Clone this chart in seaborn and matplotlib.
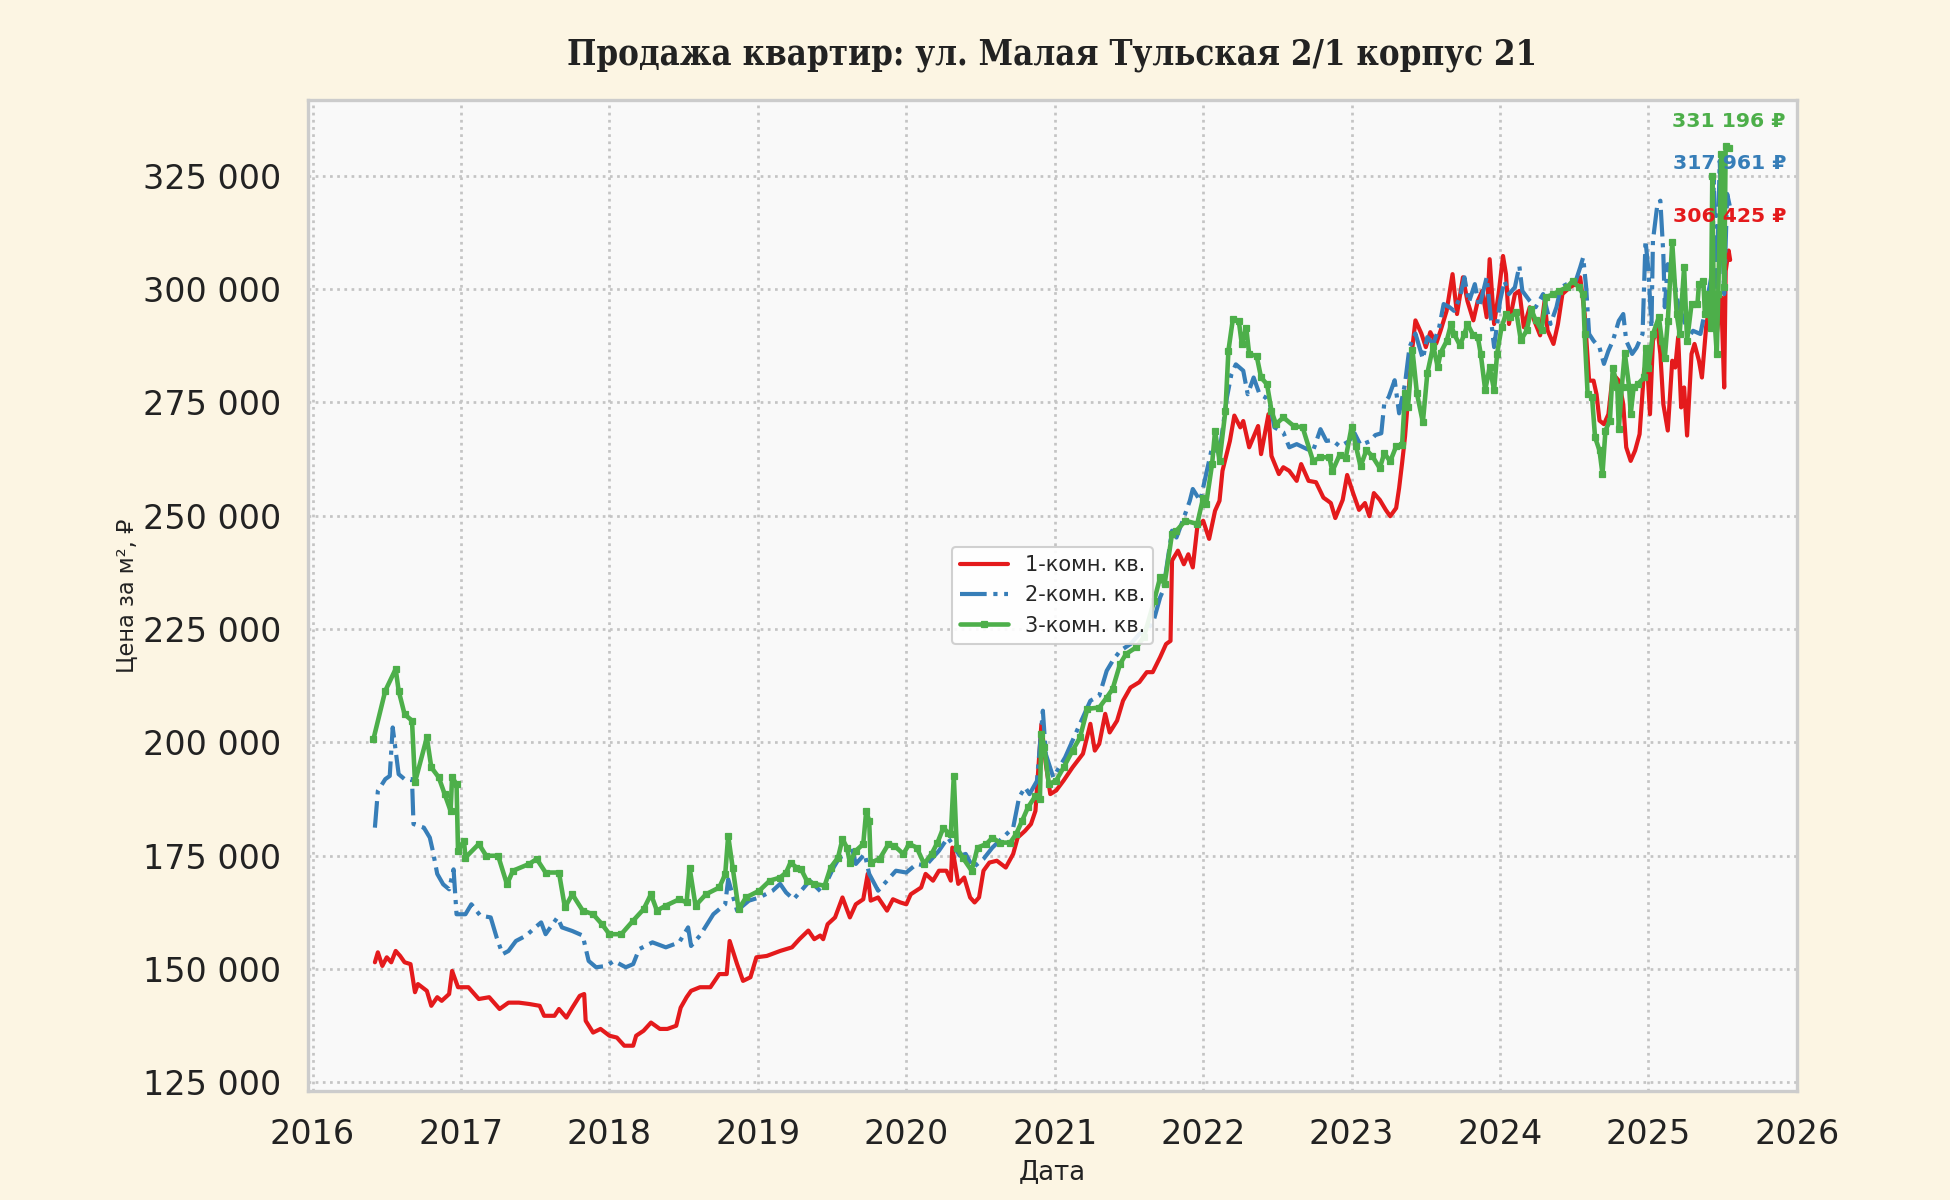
import matplotlib
matplotlib.use("Agg")
import matplotlib.pyplot as plt
from matplotlib.ticker import FuncFormatter, FixedLocator
import seaborn as sns

# ---------------- data ----------------
title_text = "Продажа квартир: ул. Малая Тульская 2/1 корпус 21"
series_labels = ["1-комн. кв.", "2-комн. кв.", "3-комн. кв."]
series_colors = ["#e41a1c", "#377eb8", "#4daf4a"]
x_label = "Дата"
y_label = "Цена за м², ₽"
year_ticks = [2016, 2017, 2018, 2019, 2020, 2021, 2022, 2023, 2024, 2025, 2026]
price_ticks = [125000, 150000, 175000, 200000, 225000, 250000, 275000, 300000, 325000]

red_x = [2016.42, 2016.44, 2016.47, 2016.50, 2016.53, 2016.56, 2016.59, 2016.62, 2016.66, 2016.69,
         2016.71, 2016.77, 2016.80, 2016.84, 2016.87, 2016.92, 2016.94, 2016.98, 2017.05, 2017.12,
         2017.19, 2017.26, 2017.32, 2017.39, 2017.46, 2017.53, 2017.56, 2017.63, 2017.66, 2017.71,
         2017.75, 2017.80, 2017.83, 2017.84, 2017.89, 2017.94, 2018.00, 2018.05, 2018.10, 2018.16,
         2018.18, 2018.23, 2018.28, 2018.34, 2018.39, 2018.45, 2018.48, 2018.52, 2018.55, 2018.61,
         2018.68, 2018.74, 2018.79, 2018.81, 2018.86, 2018.90, 2018.95, 2018.99, 2019.06, 2019.15,
         2019.23, 2019.28, 2019.34, 2019.38, 2019.42, 2019.44, 2019.47, 2019.52, 2019.57, 2019.62,
         2019.66, 2019.71, 2019.74, 2019.76, 2019.81, 2019.87, 2019.91, 2019.96, 2020.00, 2020.03,
         2020.10, 2020.13, 2020.18, 2020.22, 2020.27, 2020.30, 2020.31, 2020.35, 2020.39, 2020.43,
         2020.46, 2020.49, 2020.52, 2020.56, 2020.61, 2020.67, 2020.72, 2020.75, 2020.80, 2020.84,
         2020.87, 2020.91, 2020.94, 2020.97, 2021.01, 2021.06, 2021.12, 2021.19, 2021.24, 2021.27,
         2021.30, 2021.34, 2021.37, 2021.42, 2021.46, 2021.51, 2021.57, 2021.62, 2021.66, 2021.71,
         2021.75, 2021.78, 2021.79, 2021.83, 2021.87, 2021.90, 2021.93, 2021.96, 2022.00, 2022.04,
         2022.08, 2022.11, 2022.13, 2022.18, 2022.21, 2022.25, 2022.27, 2022.31, 2022.37, 2022.39,
         2022.44, 2022.46, 2022.51, 2022.54, 2022.58, 2022.63, 2022.66, 2022.71, 2022.76, 2022.81,
         2022.84, 2022.86, 2022.89, 2022.94, 2022.97, 2023.01, 2023.05, 2023.09, 2023.12, 2023.15,
         2023.19, 2023.23, 2023.26, 2023.30, 2023.32, 2023.34, 2023.36, 2023.39, 2023.41, 2023.43,
         2023.47, 2023.50, 2023.53, 2023.57, 2023.60, 2023.64, 2023.68, 2023.71, 2023.75, 2023.78,
         2023.82, 2023.85, 2023.88, 2023.91, 2023.93, 2023.96, 2023.99, 2024.02, 2024.04, 2024.06,
         2024.10, 2024.13, 2024.16, 2024.20, 2024.23, 2024.27, 2024.30, 2024.32, 2024.36, 2024.39,
         2024.42, 2024.47, 2024.51, 2024.54, 2024.57, 2024.60, 2024.63, 2024.65, 2024.67, 2024.70,
         2024.73, 2024.76, 2024.80, 2024.83, 2024.85, 2024.88, 2024.91, 2024.94, 2024.97, 2024.99,
         2025.01, 2025.03, 2025.06, 2025.08, 2025.10, 2025.13, 2025.16, 2025.18, 2025.20, 2025.22,
         2025.24, 2025.26, 2025.29, 2025.31, 2025.34, 2025.36, 2025.39, 2025.42, 2025.44, 2025.46,
         2025.49, 2025.51, 2025.52, 2025.54, 2025.55]
red_y = [151500, 153700, 150700, 152600, 151500, 154000, 152900, 151500, 151100, 144900,
         146700, 145200, 141900, 143800, 143000, 144500, 149600, 146000, 146000, 143400,
         143800, 141200, 142600, 142600, 142300, 141900, 139700, 139700, 141200, 139300,
         141500, 144100, 144500, 138600, 136000, 136800, 135300, 134900, 133100, 133100,
         135300, 136400, 138200, 136800, 136800, 137500, 141500, 143800, 145200, 146000,
         146000, 148900, 148900, 156200, 151100, 147400, 148200, 152600, 152900, 154000,
         154800, 156600, 158500, 156600, 157400, 156600, 159900, 161400, 165800, 161400,
         164300, 165400, 171000, 165100, 165800, 162900, 165400, 164700, 164300, 166500,
         168000, 171000, 169500, 171700, 171700, 169500, 176800, 168800, 170200, 165800,
         164700, 165800, 171700, 173500, 173900, 172400, 175400, 179000, 180500, 182000,
         184900, 204000, 195200, 188600, 189400, 191600, 194500, 197500, 204100, 198200,
         199700, 206300, 202200, 204800, 209200, 212100, 213300, 215500, 215500, 218800,
         221700, 222400, 240100, 242300, 239300, 241500, 238600, 247400, 248900, 244900,
         251100, 253300, 259900, 266500, 272100, 269500, 270900, 265100, 269800, 263600,
         272400, 263200, 259200, 260700, 259900, 257700, 261400, 257700, 257400, 254000,
         253300, 252800, 249500, 253500, 259000, 255000, 251300, 252800, 249900, 255000,
         253500, 251300, 249900, 251700, 256100, 261600, 267500, 279900, 287200, 293100,
         290200, 287200, 290500, 288000, 290900, 295200, 303300, 294500, 302600, 297400,
         293100, 297400, 299600, 293800, 306600, 292300, 298900, 307300, 303300, 292300,
         298900, 299600, 291600, 296000, 293100, 289800, 297400, 290900, 287900, 292300,
         298900, 300400, 301100, 302600, 294500, 279800, 279800, 276800, 271000, 270200,
         272400, 281300, 279800, 274600, 265100, 262100, 264400, 268000, 282000, 284200,
         272400, 288600, 291500, 285700, 274600, 268800, 284200, 282700, 289400, 273900,
         278300, 267700, 285700, 287900, 284200, 280500, 292300, 297400, 293000, 290100,
         298200, 278300, 304000, 308500, 306425]

blue_x = [2016.42, 2016.44, 2016.49, 2016.52, 2016.54, 2016.56, 2016.58, 2016.62, 2016.67, 2016.68,
          2016.75, 2016.79, 2016.81, 2016.84, 2016.88, 2016.92, 2016.95, 2016.97, 2017.03, 2017.07,
          2017.13, 2017.20, 2017.24, 2017.28, 2017.32, 2017.37, 2017.44, 2017.50, 2017.54, 2017.57,
          2017.65, 2017.68, 2017.75, 2017.82, 2017.86, 2017.91, 2017.98, 2018.03, 2018.11, 2018.16,
          2018.20, 2018.29, 2018.38, 2018.47, 2018.53, 2018.55, 2018.61, 2018.70, 2018.78, 2018.80,
          2018.86, 2018.94, 2019.01, 2019.10, 2019.15, 2019.19, 2019.24, 2019.30, 2019.35, 2019.43,
          2019.51, 2019.55, 2019.60, 2019.63, 2019.66, 2019.72, 2019.75, 2019.81, 2019.87, 2019.93,
          2020.00, 2020.07, 2020.13, 2020.22, 2020.28, 2020.31, 2020.36, 2020.40, 2020.45, 2020.52,
          2020.58, 2020.65, 2020.72, 2020.76, 2020.80, 2020.83, 2020.88, 2020.92, 2020.94, 2020.99,
          2021.03, 2021.07, 2021.17, 2021.24, 2021.30, 2021.35, 2021.39, 2021.44, 2021.51, 2021.57,
          2021.66, 2021.71, 2021.73, 2021.79, 2021.82, 2021.87, 2021.91, 2021.93, 2021.98, 2022.02,
          2022.06, 2022.09, 2022.12, 2022.16, 2022.19, 2022.22, 2022.27, 2022.30, 2022.34, 2022.38,
          2022.42, 2022.45, 2022.48, 2022.54, 2022.58, 2022.63, 2022.70, 2022.74, 2022.79, 2022.83,
          2022.87, 2022.92, 2022.98, 2023.02, 2023.06, 2023.12, 2023.16, 2023.20, 2023.22, 2023.25,
          2023.29, 2023.32, 2023.36, 2023.39, 2023.43, 2023.48, 2023.51, 2023.55, 2023.59, 2023.62,
          2023.66, 2023.69, 2023.73, 2023.76, 2023.79, 2023.83, 2023.86, 2023.91, 2023.94, 2023.96,
          2024.00, 2024.03, 2024.06, 2024.10, 2024.13, 2024.15, 2024.20, 2024.24, 2024.29, 2024.34,
          2024.38, 2024.41, 2024.45, 2024.51, 2024.54, 2024.56, 2024.58, 2024.60, 2024.63, 2024.67,
          2024.70, 2024.73, 2024.76, 2024.80, 2024.83, 2024.85, 2024.89, 2024.92, 2024.96, 2024.97,
          2024.98, 2025.00, 2025.02, 2025.03, 2025.06, 2025.08, 2025.10, 2025.11, 2025.13, 2025.17,
          2025.20, 2025.24, 2025.27, 2025.30, 2025.35, 2025.39, 2025.43, 2025.44, 2025.46, 2025.48,
          2025.51, 2025.53, 2025.55]
blue_y = [181200, 189300, 191900, 192600, 203300, 198100, 193000, 191900, 191900, 182000,
          181200, 179000, 176100, 171000, 168700, 167600, 172000, 162100, 162100, 164300,
          161800, 161400, 157000, 153300, 154000, 156200, 157400, 159200, 160300, 157700,
          161400, 159200, 158400, 157400, 151800, 150400, 150700, 151800, 150400, 151100,
          154400, 155900, 154800, 155900, 159200, 155100, 157400, 162100, 164300, 169800,
          162900, 165100, 165800, 167300, 168800, 166900, 165400, 167600, 169500, 166900,
          172400, 174600, 175400, 177200, 173200, 175400, 171000, 167300, 169500, 171700,
          171300, 173200, 172800, 176100, 179000, 177600, 175000, 175400, 172400, 174300,
          176800, 179000, 181200, 187900, 190100, 188600, 191500, 207000, 197400, 192300,
          194500, 196700, 204100, 209200, 210300, 215800, 218000, 220200, 221700, 223900,
          226100, 232000, 233500, 246700, 245200, 249600, 253300, 255900, 253300, 259200,
          265100, 264300, 266500, 276100, 281200, 283400, 282000, 276800, 280500, 276800,
          276100, 274600, 269500, 268400, 265100, 265800, 264700, 264300, 269100, 266500,
          266700, 265300, 266400, 268200, 265600, 266400, 267800, 268200, 274800, 276200,
          279900, 272600, 279200, 287200, 290200, 284600, 289400, 287900, 291600, 296700,
          296000, 295200, 298200, 302600, 297100, 301100, 296000, 302600, 293100, 287200,
          297400, 301800, 298900, 300400, 305100, 299600, 297400, 296000, 298900, 292300,
          296000, 300400, 301100, 301800, 304800, 307000, 300400, 290100, 288600, 287100,
          283500, 286400, 288600, 293000, 294500, 288600, 285700, 287100, 290100, 300400,
          310700, 304000, 291500, 310700, 318700, 319500, 307700, 296000, 305500, 302600,
          296700, 293000, 289400, 290800, 290100, 296700, 304000, 323900, 300400, 328300,
          298900, 321000, 317961]

green_x = [2016.41, 2016.49, 2016.56, 2016.58, 2016.62, 2016.67, 2016.69, 2016.77, 2016.80, 2016.85,
           2016.89, 2016.93, 2016.94, 2016.97, 2016.98, 2017.02, 2017.03, 2017.12, 2017.17, 2017.25,
           2017.31, 2017.35, 2017.46, 2017.51, 2017.57, 2017.66, 2017.70, 2017.75, 2017.82, 2017.89,
           2017.95, 2018.00, 2018.08, 2018.16, 2018.23, 2018.28, 2018.32, 2018.38, 2018.47, 2018.52,
           2018.54, 2018.58, 2018.65, 2018.74, 2018.78, 2018.80, 2018.83, 2018.87, 2018.92, 2019.01,
           2019.08, 2019.15, 2019.19, 2019.22, 2019.26, 2019.29, 2019.33, 2019.38, 2019.45, 2019.49,
           2019.54, 2019.57, 2019.60, 2019.62, 2019.66, 2019.71, 2019.73, 2019.75, 2019.76, 2019.82,
           2019.88, 2019.92, 2019.98, 2020.02, 2020.07, 2020.12, 2020.17, 2020.21, 2020.25, 2020.28,
           2020.30, 2020.32, 2020.34, 2020.38, 2020.44, 2020.48, 2020.54, 2020.58, 2020.63, 2020.70,
           2020.74, 2020.78, 2020.82, 2020.87, 2020.90, 2020.91, 2020.93, 2020.96, 2021.01, 2021.06,
           2021.12, 2021.17, 2021.22, 2021.30, 2021.35, 2021.39, 2021.44, 2021.48, 2021.55, 2021.60,
           2021.67, 2021.71, 2021.74, 2021.79, 2021.82, 2021.88, 2021.96, 2022.00, 2022.02, 2022.06,
           2022.08, 2022.11, 2022.15, 2022.17, 2022.20, 2022.24, 2022.26, 2022.29, 2022.31, 2022.36,
           2022.39, 2022.43, 2022.46, 2022.49, 2022.54, 2022.61, 2022.67, 2022.74, 2022.79, 2022.85,
           2022.87, 2022.92, 2022.96, 2023.00, 2023.03, 2023.06, 2023.10, 2023.14, 2023.19, 2023.22,
           2023.26, 2023.30, 2023.34, 2023.36, 2023.38, 2023.41, 2023.44, 2023.48, 2023.51, 2023.55,
           2023.58, 2023.60, 2023.64, 2023.67, 2023.69, 2023.73, 2023.76, 2023.78, 2023.82, 2023.85,
           2023.87, 2023.90, 2023.93, 2023.96, 2023.98, 2024.01, 2024.04, 2024.07, 2024.11, 2024.14,
           2024.18, 2024.21, 2024.24, 2024.28, 2024.31, 2024.36, 2024.40, 2024.45, 2024.49, 2024.53,
           2024.56, 2024.57, 2024.59, 2024.62, 2024.64, 2024.67, 2024.69, 2024.71, 2024.74, 2024.76,
           2024.79, 2024.80, 2024.82, 2024.84, 2024.87, 2024.88, 2024.90, 2024.93, 2024.97, 2024.98,
           2025.00, 2025.03, 2025.07, 2025.09, 2025.11, 2025.13, 2025.16, 2025.19, 2025.21, 2025.24,
           2025.26, 2025.29, 2025.33, 2025.34, 2025.37, 2025.38, 2025.40, 2025.42, 2025.43, 2025.44,
           2025.46, 2025.47, 2025.49, 2025.51, 2025.52, 2025.54]
green_y = [200700, 211400, 216200, 211400, 206200, 204800, 191200, 201100, 194500, 192300,
           188600, 184900, 192300, 190800, 176100, 178300, 174600, 177600, 175000, 175000,
           168700, 171700, 173200, 174300, 171300, 171300, 163600, 166500, 162900, 162100,
           159900, 157700, 157700, 160700, 163200, 166500, 162900, 164000, 165400, 164700,
           172400, 164000, 166500, 168000, 170900, 179400, 172400, 163200, 165800, 167300,
           169500, 170200, 171300, 173500, 172400, 172100, 169500, 168800, 168400, 172400,
           174600, 178700, 176800, 173500, 176100, 177600, 184900, 182700, 173500, 174300,
           177600, 177200, 175400, 177600, 176800, 173200, 175400, 177900, 181200, 180100,
           179800, 192600, 176800, 174600, 171700, 176800, 177600, 179000, 177900, 177900,
           179800, 182700, 185700, 188200, 187500, 201800, 198900, 190800, 191600, 194500,
           198200, 201100, 207400, 207700, 209900, 211800, 217300, 219500, 221000, 223200,
           231300, 236400, 234900, 246000, 246700, 248900, 248200, 254000, 252600, 261400,
           268700, 262100, 273200, 286400, 293400, 293000, 287900, 291500, 285600, 285300,
           280500, 279000, 273200, 270200, 271700, 269800, 269500, 262100, 262900, 262900,
           259800, 263500, 262700, 269600, 265300, 260900, 264500, 263100, 260500, 263800,
           262000, 265300, 265600, 277000, 274000, 286500, 277000, 270600, 281400, 287500,
           282800, 286000, 288500, 292300, 290100, 287600, 290100, 292300, 289800, 289400,
           285700, 277700, 282800, 277700, 285700, 291600, 294500, 293800, 294900, 288700,
           290900, 295600, 293100, 290900, 298200, 298900, 299600, 300400, 301800, 300400,
           298900, 290100, 276800, 276100, 267300, 264400, 259200, 268800, 271000, 282700,
           278300, 269100, 278300, 286000, 278300, 272400, 278300, 279100, 280500, 287100,
           282700, 290100, 293800, 288600, 284800, 293000, 310300, 294500, 290100, 304800,
           288600, 296700, 296700, 301100, 301800, 294500, 298900, 291500, 325000, 296000,
           285700, 298900, 329800, 300400, 331600, 331196]

# ---------------- style ----------------
sns.set_theme(style="whitegrid")
plt.rcParams["font.family"] = ["DejaVu Sans"]
fig_bg = "#fcf5e3"
ax_bg = "#f9f9f9"
spine_col = "#cccccc"

fig = plt.figure(figsize=(13, 8), dpi=150, facecolor=fig_bg)
ax = fig.add_axes([0.158, 0.0908, 0.7635, 0.8262])
ax.set_facecolor(ax_bg)

series = [(red_x, red_y), (blue_x, blue_y), (green_x, green_y)]
line_styles = [dict(linestyle="-", linewidth=2.0),
               dict(linestyle="-.", linewidth=2.0),
               dict(linestyle="-", linewidth=2.2, marker="s", markersize=2.8)]

for (xs, ys), lab, col, st in zip(series, series_labels, series_colors, line_styles):
    if "marker" in st:
        st = dict(st, markeredgecolor=col, markerfacecolor=col, markeredgewidth=0.6)
    sns.lineplot(x=xs, y=ys, ax=ax, color=col, label=lab, estimator=None, sort=False, **st)

# last-value labels
label_offsets = [21, 21, 12.4]
for (xs, ys), col, off in zip(series, series_colors, label_offsets):
    txt = f"{ys[-1]:,.0f}".replace(",", " ") + " ₽"
    ax.annotate(txt, xy=(xs[-1], ys[-1]), xytext=(0, off), textcoords="offset points",
                ha="center", va="center", fontsize=9.8, fontweight="bold", color=col,
                family=["DejaVu Sans"])

ax.set_xlim(2015.97, 2026.0)
ax.set_ylim(123100, 341800)
ax.xaxis.set_major_locator(FixedLocator(year_ticks))
ax.yaxis.set_major_locator(FixedLocator(price_ticks))
ax.xaxis.set_major_formatter(FuncFormatter(lambda v, p: f"{int(round(v))}"))
ax.yaxis.set_major_formatter(FuncFormatter(lambda v, p: f"{int(v):,}".replace(",", " ")))
ax.tick_params(axis="both", which="major", labelsize=16, length=0, colors="#222222")
ax.tick_params(axis="x", pad=13)
ax.tick_params(axis="y", pad=13)

ax.grid(True, linestyle=":", linewidth=1.3, color="#c4c4c4")
for s in ax.spines.values():
    s.set_visible(True)
    s.set_color(spine_col)
    s.set_linewidth(1.6)

ax.set_title(title_text, family=["DejaVu Serif"], fontweight="bold", fontsize=16.6,
             fontstretch="condensed", color="#222222", pad=17)
ax.set_xlabel(x_label, fontsize=12.5, color="#222222", labelpad=4)
ax.set_ylabel(y_label, fontsize=10.8, color="#222222", labelpad=2)

leg = ax.legend(loc="center", fontsize=10, frameon=True, facecolor="white",
                edgecolor="#cccccc", framealpha=0.9, handlelength=2.3)

fig.savefig("out.png", dpi=150, facecolor=fig_bg)
